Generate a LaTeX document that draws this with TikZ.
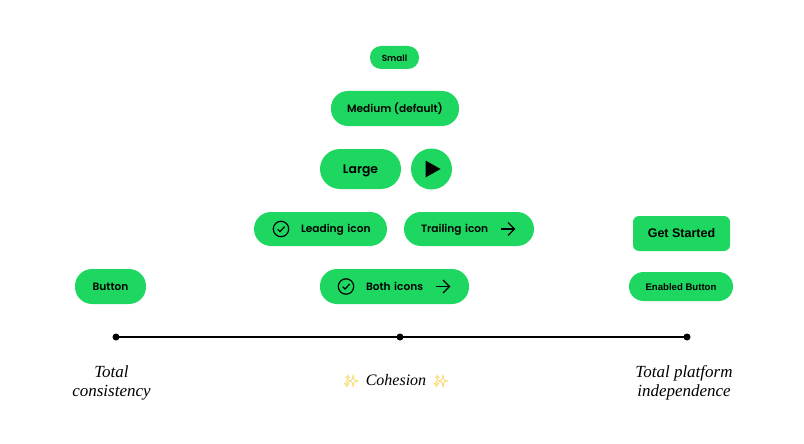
\documentclass[tikz,border=0pt]{standalone}
\usepackage{fontspec}
\setmainfont{Liberation Serif}
\newfontfamily\btnfont{Poppins SemiBold}
\newfontfamily\appfont{Liberation Sans}
\newfontfamily\emojifont[FakeBold=2.5]{Noto Emoji}
\definecolor{btngreen}{HTML}{1ED760}
\definecolor{sparkle}{HTML}{F7DC7A}
\begin{document}
\begin{tikzpicture}[x=1pt,y=-1pt,
	btn/.style={fill=btngreen, text=black, rounded corners=#1, inner sep=0pt, text height=9pt, text depth=1.4pt, font=\btnfont\fontsize{10.6}{12}\selectfont},
	btn/.default=17pt,
	hand/.style={font=\itshape\fontsize{17}{19}\selectfont, align=center},
	stop/.style={circle, fill=black, inner sep=0pt, outer sep=0pt, minimum size=7pt},
	icon/.style={black, line width=1.2pt}]
	\useasboundingbox (0,0) rectangle (804,444);
	%Sizes
	\node[btn=11pt, minimum width=49pt, minimum height=23pt, font=\btnfont\fontsize{8.8}{10}\selectfont] (small) at (394.5,57.5) {Small};
	\node[btn, minimum width=128pt, minimum height=35pt] (medium) at (395,108.5) {Medium (default)};
	\node[btn=20pt, minimum width=81pt, minimum height=40pt, text height=10pt, text depth=1.2pt, font=\btnfont\fontsize{12.4}{14}\selectfont] (large) at (360.5,169) {Large};
	\node[circle, fill=btngreen, inner sep=0pt, minimum size=41pt] (play) at (431.5,169) {};
	\fill[black] (425.5,160.5) -- (440.5,169) -- (425.5,177.5) -- cycle;
	%Icons
	\node[btn, minimum width=133pt, minimum height=34pt, text width=133pt, align=left] (leading) at (320.5,229) {\hspace{47pt}Leading icon};
	\node[btn, minimum width=130pt, minimum height=34pt, text width=130pt, align=left] (trailing) at (469,229) {\hspace{17pt}Trailing icon};
	\node[btn, minimum width=149pt, minimum height=35pt, text width=149pt, align=left] (both) at (394.5,286.5) {\hspace{46pt}Both icons};
	\foreach \x/\y in {281/229, 346/286.5} {
		\draw[icon] (\x,\y) circle [radius=7.7];
		\draw[icon] (\x-3.4,\y+0.2) -- ++(2.4,2.4) -- ++(4.6,-5);
	}
	\foreach \x/\y in {501/229, 436/286.5} {
		\draw[icon] (\x,\y) -- ++(13.5,0);
		\draw[icon] (\x+7,\y-6.5) -- ++(6.5,6.5) -- ++(-6.5,6.5);
	}
	%Consistency
	\node[btn, minimum width=71pt, minimum height=35pt] (button) at (110.5,286.5) {Button};
	%Independence
	\node[btn=6pt, minimum width=97pt, minimum height=35pt, font=\appfont\bfseries\fontsize{12.5}{14}\selectfont] (started) at (681.5,233.5) {Get Started};
	\node[btn=14.5pt, minimum width=104pt, minimum height=29pt, font=\appfont\bfseries\fontsize{9.6}{12}\selectfont] (enabled) at (681,286.5) {Enabled Button};
	%Scale
	\node[stop] (left) at (116,337) {};
	\node[stop] (mid) at (400,337) {};
	\node[stop] (right) at (687,337) {};
	\draw[line width=1.4pt, black] (left.center) -- (mid.center) -- (right.center);
	\node[hand] (total) at (111.5,382.5) {Total\\consistency};
	\node[hand, font=\itshape\fontsize{16}{19}\selectfont] (cohesion) at (396,380.5) {{\emojifont\fontsize{12}{14}\selectfont\color{sparkle}\char"2728}\hspace{7pt}Cohesion\hspace{7pt}{\emojifont\fontsize{12}{14}\selectfont\color{sparkle}\char"2728}};
	\node[hand] (platform) at (684,382.5) {Total platform\\independence};
\end{tikzpicture}
\end{document}
